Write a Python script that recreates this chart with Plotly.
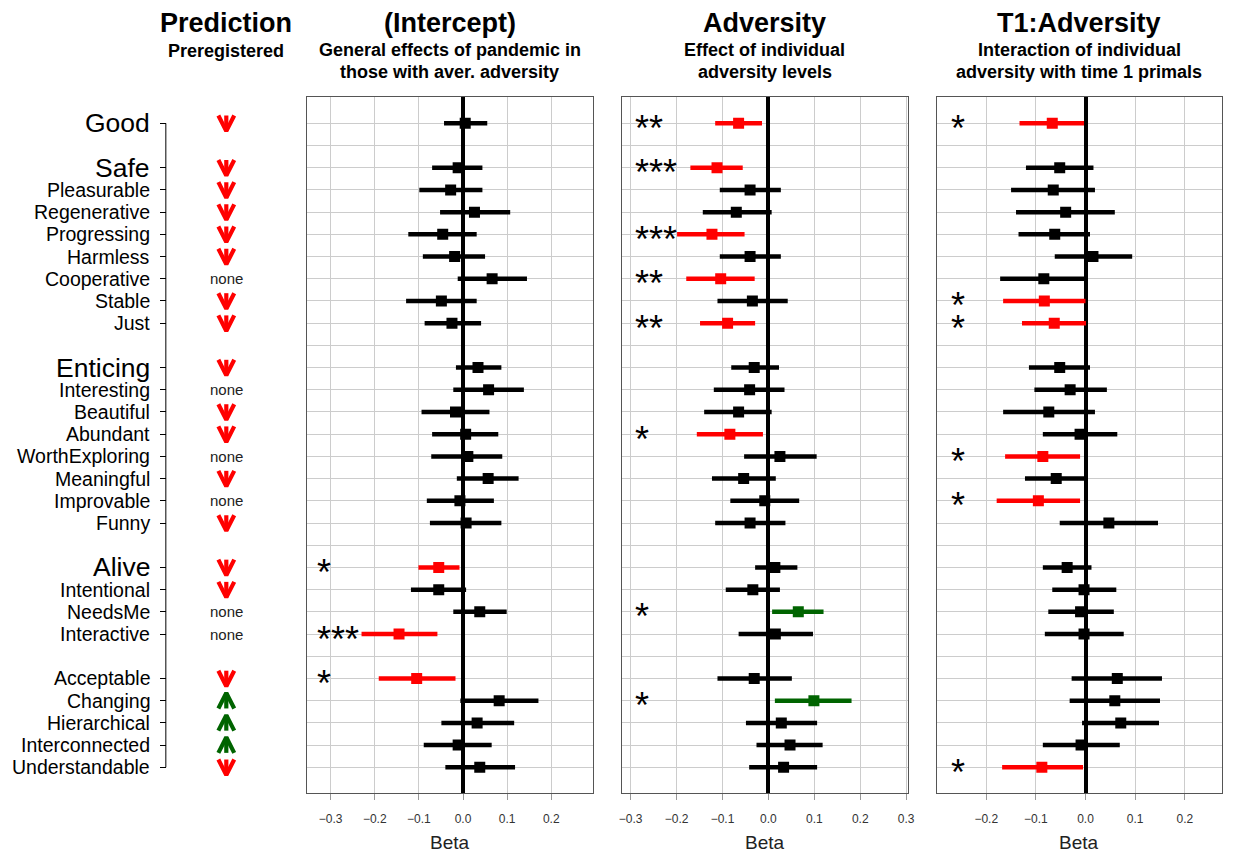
import plotly.graph_objects as go

# ---------------- data ----------------
labels = ["Good", "Safe", "Pleasurable", "Regenerative", "Progressing", "Harmless",
          "Cooperative", "Stable", "Just", "Enticing", "Interesting", "Beautiful",
          "Abundant", "WorthExploring", "Meaningful", "Improvable", "Funny", "Alive",
          "Intentional", "NeedsMe", "Interactive", "Acceptable", "Changing",
          "Hierarchical", "Interconnected", "Understandable"]
rows = [0, 2, 3, 4, 5, 6, 7, 8, 9, 11, 12, 13, 14, 15, 16, 17, 18, 20, 21, 22, 23,
        25, 26, 27, 28, 29]
primary_labels = ["Good", "Safe", "Enticing", "Alive"]
prediction = ["down", "down", "down", "down", "down", "down", "none", "down", "down",
              "down", "none", "down", "down", "none", "down", "none", "down",
              "down", "down", "none", "none",
              "down", "up", "up", "up", "down"]

# Panel 1: (Intercept)
est1 = [0.005, -0.011, -0.028, 0.026, -0.046, -0.019, 0.066, -0.049, -0.025,
        0.034, 0.058, -0.017, 0.006, 0.011, 0.057, -0.007, 0.007,
        -0.055, -0.055, 0.038, -0.145,
        -0.105, 0.082, 0.032, -0.011, 0.038]
lo1 = [-0.043, -0.070, -0.099, -0.052, -0.124, -0.091, -0.012, -0.129, -0.087,
       -0.016, -0.022, -0.094, -0.070, -0.072, -0.014, -0.082, -0.075,
       -0.101, -0.118, -0.022, -0.230,
       -0.191, -0.006, -0.049, -0.089, -0.040]
hi1 = [0.055, 0.044, 0.044, 0.107, 0.031, 0.050, 0.145, 0.031, 0.041,
       0.087, 0.138, 0.060, 0.080, 0.089, 0.126, 0.070, 0.087,
       -0.008, 0.007, 0.099, -0.058,
       -0.017, 0.171, 0.116, 0.065, 0.118]
stars1 = ["", "", "", "", "", "", "", "", "",
          "", "", "", "", "", "", "", "",
          "*", "", "", "***",
          "*", "", "", "", ""]

# Panel 2: Adversity
est2 = [-0.065, -0.112, -0.040, -0.070, -0.123, -0.040, -0.104, -0.035, -0.089,
        -0.031, -0.041, -0.065, -0.084, 0.025, -0.054, -0.008, -0.040,
        0.014, -0.034, 0.065, 0.015,
        -0.031, 0.099, 0.028, 0.047, 0.033]
lo2 = [-0.116, -0.170, -0.106, -0.143, -0.199, -0.106, -0.179, -0.111, -0.149,
       -0.081, -0.119, -0.140, -0.156, -0.053, -0.123, -0.083, -0.116,
       -0.029, -0.093, 0.008, -0.065,
       -0.111, 0.014, -0.049, -0.026, -0.042]
hi2 = [-0.014, -0.056, 0.027, 0.007, -0.052, 0.027, -0.030, 0.042, -0.029,
       0.023, 0.035, 0.007, -0.012, 0.105, 0.016, 0.067, 0.037,
       0.063, 0.025, 0.120, 0.097,
       0.051, 0.181, 0.106, 0.118, 0.106]
stars2 = ["**", "***", "", "", "***", "", "**", "", "**",
          "", "", "", "*", "", "", "", "",
          "", "", "*", "",
          "", "*", "", "", ""]

# Panel 3: T1:Adversity
est3 = [-0.067, -0.052, -0.065, -0.040, -0.062, 0.015, -0.084, -0.083, -0.063,
        -0.052, -0.031, -0.074, -0.011, -0.086, -0.059, -0.095, 0.047,
        -0.037, -0.003, -0.010, -0.003,
        0.064, 0.059, 0.071, -0.009, -0.088]
lo3 = [-0.133, -0.120, -0.150, -0.140, -0.135, -0.062, -0.172, -0.166, -0.128,
       -0.114, -0.103, -0.166, -0.086, -0.162, -0.122, -0.179, -0.052,
       -0.086, -0.067, -0.075, -0.082,
       -0.028, -0.032, -0.007, -0.086, -0.168]
hi3 = [-0.003, 0.016, 0.019, 0.059, 0.009, 0.094, -0.001, 0.000, 0.001,
       0.009, 0.043, 0.019, 0.064, -0.011, -0.001, -0.011, 0.146,
       0.012, 0.062, 0.057, 0.077,
       0.154, 0.150, 0.148, 0.069, -0.005]
stars3 = ["*", "", "", "", "", "", "", "*", "*",
          "", "", "", "", "*", "", "*", "",
          "", "", "", "",
          "", "", "", "", "*"]

titles = ["(Intercept)", "Adversity", "T1:Adversity"]
subtitles = [["General effects of pandemic in", "those with aver. adversity"],
             ["Effect of individual", "adversity levels"],
             ["Interaction of individual", "adversity with time 1 primals"]]
tick_values = [[-0.3, -0.2, -0.1, 0.0, 0.1, 0.2],
               [-0.3, -0.2, -0.1, 0.0, 0.1, 0.2, 0.3],
               [-0.2, -0.1, 0.0, 0.1, 0.2]]
x_ranges = [[-0.353, 0.294], [-0.318, 0.303], [-0.300, 0.275]]

# ---------------- layout geometry ----------------
W, H = 1233, 853
FONT = "Liberation Sans, Arial, Helvetica, sans-serif"
RED, GREEN = "#ff0000", "#006400"


def px(x):
    return x / W


def py(y):
    return 1 - y / H


panel_px = [(306, 594), (624, 911.7), (941, 1229)]
star_offset_px = [8, 11, 13]
y_dom = [py(793.3), py(97.3)]
y_range = [30.171, -1.171]

fig = go.Figure()
annotations = []
shapes = []

panels = [(est1, lo1, hi1, stars1), (est2, lo2, hi2, stars2), (est3, lo3, hi3, stars3)]


def color_of(s, e):
    if not s:
        return "black"
    return RED if e < 0 else GREEN


for k, (est, lo, hi, st) in enumerate(panels):
    xa = "x" if k == 0 else f"x{k + 1}"
    ya = "y" if k == 0 else f"y{k + 1}"
    cols = [color_of(s, e) for s, e in zip(st, est)]
    for c in ["black", RED, GREEN]:
        xs, ys = [], []
        for l, h, r, cc in zip(lo, hi, rows, cols):
            if cc == c:
                xs += [l, h, None]
                ys += [r, r, None]
        if xs:
            fig.add_trace(go.Scatter(x=xs, y=ys, xaxis=xa, yaxis=ya, mode="lines",
                                     line=dict(color=c, width=4.5), hoverinfo="skip",
                                     showlegend=False))
    fig.add_trace(go.Scatter(x=est, y=rows, xaxis=xa, yaxis=ya, mode="markers",
                             marker=dict(symbol="square", size=11, color=cols,
                                         line=dict(width=0)),
                             showlegend=False))
    x0 = px(panel_px[k][0])
    for s, r in zip(st, rows):
        if s:
            annotations.append(dict(text=s, xref="paper", yref=ya,
                                    x=x0 + star_offset_px[k] / W, y=r,
                                    xanchor="left", yanchor="middle", yshift=-5,
                                    showarrow=False,
                                    font=dict(family=FONT, size=36, color="black")))
    cx = px((panel_px[k][0] + panel_px[k][1]) / 2)
    annotations.append(dict(text="<b>" + titles[k] + "</b>", xref="paper", yref="paper",
                            x=cx, y=py(23), xanchor="center", yanchor="middle",
                            showarrow=False, font=dict(family=FONT, size=27, color="black")))
    for j, line in enumerate(subtitles[k]):
        annotations.append(dict(text="<b>" + line + "</b>", xref="paper", yref="paper",
                                x=cx, y=py(50 + 22 * j), xanchor="center",
                                yanchor="middle", showarrow=False,
                                font=dict(family=FONT, size=18, color="black")))
    annotations.append(dict(text="Beta", xref="paper", yref="paper", x=cx, y=py(842),
                            xanchor="center", yanchor="middle", showarrow=False,
                            font=dict(family=FONT, size=19, color="#222")))

    xkey = "xaxis" if k == 0 else f"xaxis{k + 1}"
    ykey = "yaxis" if k == 0 else f"yaxis{k + 1}"
    fig.layout[xkey] = dict(domain=[px(panel_px[k][0]), px(panel_px[k][1])],
                            range=x_ranges[k], anchor=ya, tickvals=tick_values[k],
                            tickformat=".1f", showgrid=True, gridcolor="#cccccc",
                            gridwidth=1, zeroline=True, zerolinecolor="black",
                            zerolinewidth=3.5, showline=True, mirror=True,
                            linecolor="#555555", linewidth=1.3, ticks="outside",
                            ticklen=6, tickcolor="#999999", ticklabelstandoff=8,
                            tickfont=dict(family=FONT, size=12, color="#333333"),
                            fixedrange=True)
    fig.layout[ykey] = dict(domain=y_dom, range=y_range, anchor=xa,
                            tickvals=list(range(30)), showticklabels=False, ticks="",
                            showgrid=True, gridcolor="#cccccc", gridwidth=1,
                            zeroline=False, showline=True, mirror=True,
                            linecolor="#555555", linewidth=1.3, fixedrange=True)

# ---------------- prediction column ----------------
arrow_x_center = 224.3
fig.layout["xaxis4"] = dict(domain=[0, px(300)], range=[-arrow_x_center, 300 - arrow_x_center],
                            anchor="y4", visible=False, fixedrange=True)
fig.layout["yaxis4"] = dict(domain=y_dom, range=y_range, anchor="free", position=px(163.3),
                            side="left", tickvals=rows, showticklabels=False,
                            ticks="outside", ticklen=6, tickwidth=1, tickcolor="black",
                            showgrid=False, zeroline=False, showline=False, fixedrange=True)

hw, hh = 8.0, 0.35
for direction, c in [("down", RED), ("up", GREEN)]:
    xs, ys = [], []
    for p, r in zip(prediction, rows):
        if p != direction:
            continue
        sgn = 1 if direction == "down" else -1
        tip, back = r + sgn * hh, r - sgn * hh
        xs += [-hw, 0, hw, None, 0, 0, None]
        ys += [back, tip, back, None, back, tip, None]
    fig.add_trace(go.Scatter(x=xs, y=ys, xaxis="x4", yaxis="y4", mode="lines",
                             line=dict(color=c, width=4.2), hoverinfo="skip",
                             showlegend=False))

for p, r in zip(prediction, rows):
    if p == "none":
        annotations.append(dict(text="none", xref="x4", yref="y4", x=0, y=r,
                                xanchor="center", yanchor="middle", showarrow=False,
                                font=dict(family=FONT, size=15, color="#222")))

for lab, r in zip(labels, rows):
    size = 26.5 if lab in primary_labels else 19.5
    annotations.append(dict(text=lab, xref="paper", yref="y4", x=px(149), y=r,
                            xanchor="right", yanchor="middle", showarrow=False,
                            font=dict(family=FONT, size=size, color="black")))

shapes.append(dict(type="line", xref="paper", yref="y4", x0=px(163.3), x1=px(163.3),
                   y0=rows[0], y1=rows[-1], line=dict(color="black", width=1)))

annotations.append(dict(text="<b>Prediction</b>", xref="paper", yref="paper",
                        x=px(arrow_x_center), y=py(23), xanchor="center", yanchor="middle",
                        showarrow=False, font=dict(family=FONT, size=27, color="black")))
annotations.append(dict(text="<b>Preregistered</b>", xref="paper", yref="paper",
                        x=px(arrow_x_center), y=py(51), xanchor="center", yanchor="middle",
                        showarrow=False, font=dict(family=FONT, size=18, color="black")))

fig.update_layout(width=W, height=H, margin=dict(l=0, r=0, t=0, b=0),
                  paper_bgcolor="white", plot_bgcolor="white",
                  annotations=annotations, shapes=shapes, showlegend=False,
                  font=dict(family=FONT))

fig.write_html("out.html", config={"displayModeBar": False},
               post_script="document.body.style.margin='0';document.body.style.overflow='hidden';")
